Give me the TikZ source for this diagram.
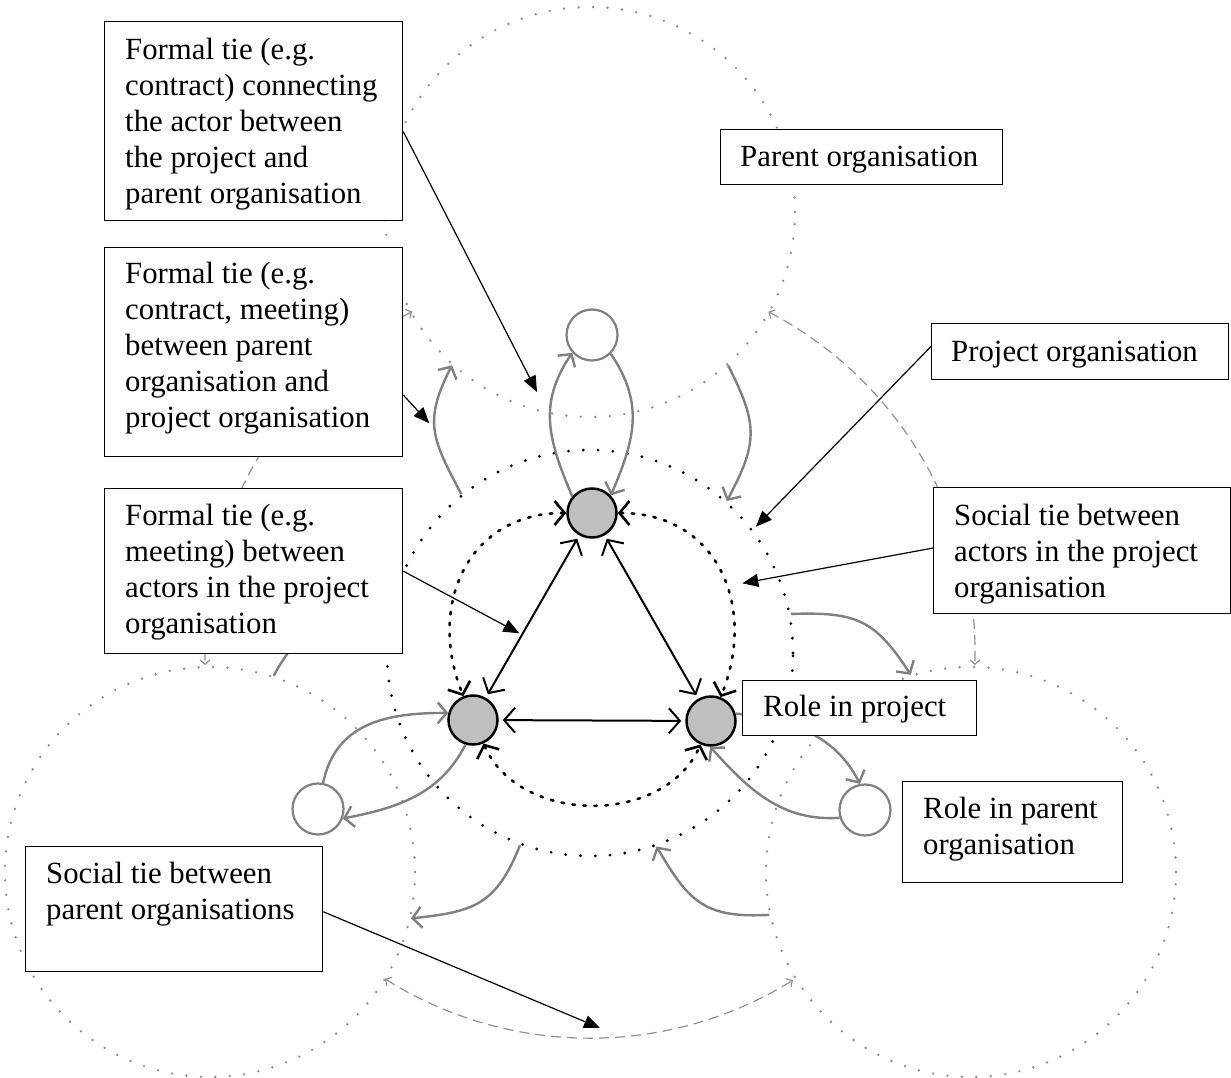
\documentclass[tikz,border=0pt]{standalone}
\usepackage{fontspec}
\setmainfont{Liberation Serif}
\usetikzlibrary{arrows.meta,calc}
\definecolor{arcgray}{RGB}{128,128,128}
\definecolor{dotgray}{RGB}{140,140,140}
\definecolor{dashgray}{RGB}{145,145,145}
\definecolor{actorfill}{RGB}{191,191,191}
\begin{document}
\begin{tikzpicture}[x=1pt,y=1pt,
  parentorg/.style={circle, inner sep=0pt, minimum size=410pt, draw=dotgray, line width=2.6pt, dash pattern=on 0pt off 14.5pt, line cap=round},
  projorg/.style={circle, inner sep=0pt, minimum size=406pt, draw=black, line width=3.1pt, dash pattern=on 0pt off 14.8pt, line cap=round},
  actor/.style={circle, inner sep=0pt, minimum size=49pt, draw=black, line width=2.5pt, fill=actorfill},
  rolec/.style={circle, inner sep=0pt, minimum size=51pt, draw=arcgray, line width=2.2pt, fill=white},
  socialring/.style={line width=2.6pt, dash pattern=on 2.5pt off 8.5pt, line cap=round, {Straight Barb[length=10pt,width=24pt]}-{Straight Barb[length=10pt,width=24pt]}},
  tri/.style={line width=2pt, {Straight Barb[length=11pt,width=25pt]}-{Straight Barb[length=11pt,width=25pt]}, shorten <=4pt, shorten >=4pt},
  garc/.style={draw=arcgray, line width=2.4pt, -{Straight Barb[length=9pt,width=21pt]}},
  sdash/.style={draw=dashgray, line width=1.2pt, dash pattern=on 10pt off 6pt, {Straight Barb[length=4.5pt,width=10pt]}-{Straight Barb[length=4.5pt,width=10pt]}},
  box/.style={rectangle, draw=black, line width=1.3pt, fill=white, inner sep=0pt, anchor=north west},
  txt/.style={inner sep=0pt, anchor=north west, align=left, font=\fontsize{30.8}{36}\selectfont},
  ann/.style={line width=1.2pt, -{Triangle[length=16pt,width=13pt]}}
]
\useasboundingbox (0,0) rectangle (1231,1077);
\fill[white] (0,0) rectangle (1231,1077);

% parent organisations and project organisation
\node[parentorg] (p1) at (590,865) {};
\node[parentorg] (p2) at (210,205) {};
\node[parentorg] (p3) at (971,205) {};
\node[projorg] (po) at (590,424) {};
\coordinate (C) at (590,424);

% social ties between parent organisations
\draw[sdash] ($(C)+(62.4:385)$) arc[start angle=62.4, end angle=-1.8, radius=385];
\draw[sdash] ($(C)+(117.5:385)$) arc[start angle=117.5, end angle=181.8, radius=385];
\draw[sdash] ($(C)+(237.8:385)$) arc[start angle=237.8, end angle=301.8, radius=385];

% actors and roles
\node[actor] (a1) at (592,564) {};
\node[actor] (a2) at (473,357) {};
\node[actor] (a3) at (711,356) {};
\node[rolec] (r1) at (592,742) {};
\node[rolec] (r2) at (318,268) {};
\node[rolec] (r3) at (865,267) {};

% formal ties parent <-> project
\draw[garc] (po.129) to[out=118,in=243,looseness=1.25] (p1.228);
\draw[garc] (p1.312) to[out=-63,in=62,looseness=1.25] (po.48);
\draw[garc] (p2.72) to[out=62,in=182,looseness=1.25] (po.171);
\draw[garc] (po.250) to[out=248,in=6,looseness=1.25] (p2.347);
\draw[garc] (p3.192) to[out=183,in=300,looseness=1.25] (po.289);
\draw[garc] (po.11) to[out=2,in=123,looseness=1.25] (p3.107);

% formal ties actor <-> role in parent organisation
\draw[garc] (a1.140) to[out=113,in=236,looseness=1.1] (r1.222);
\draw[garc] (r1.315) to[out=304,in=67,looseness=1.1] (a1.43);
\draw[garc] (a2.253) to[out=243,in=11] (r2.339);
\draw[garc] (r2.79) to[out=78,in=180,looseness=1.1] (a2.164);
\draw[garc] (a3.17) to[out=353,in=117] (r3.101);
\draw[garc] (r3.197) to[out=184,in=312] (a3.268);

% social ties between actors in the project
\draw[socialring] (a1) to[out=180,in=112,looseness=1.2] (a2);
\draw[socialring] (a1) to[out=0,in=68,looseness=1.2] (a3);
\draw[socialring] (a2) to[out=-66,in=-114,looseness=1.05] (a3);

% formal ties between actors
\draw[tri] (a1) -- (a2);
\draw[tri] (a1) -- (a3);
\draw[tri] (a2) -- (a3);

% label boxes
\node[box, minimum width=298pt, minimum height=199pt] (b1) at (104,1056) {};
\node[txt] (t1) at (125,1043.2) {\strut Formal tie (e.g.\\contract) connecting\\the actor between\\the project and\\parent organisation};
\node[box, minimum width=298pt, minimum height=209pt] (b2) at (104,830) {};
\node[txt] (t2) at (125,818.9) {\strut Formal tie (e.g.\\contract, meeting)\\between parent\\organisation and\\project organisation};
\node[box, minimum width=298pt, minimum height=165pt] (b3) at (104,589) {};
\node[txt] (t3) at (125,577.2) {\strut Formal tie (e.g.\\meeting) between\\actors in the project\\organisation};
\node[box, minimum width=282pt, minimum height=55pt] (b4) at (720,948) {};
\node[txt] (t4) at (740,935.5) {\strut Parent organisation};
\node[box, minimum width=297pt, minimum height=56pt] (b5) at (931,754) {};
\node[txt] (t5) at (951,740.5) {\strut Project organisation};
\node[box, minimum width=297pt, minimum height=126pt] (b6) at (933,590) {};
\node[txt] (t6) at (954,577.2) {\strut Social tie between\\actors in the project\\organisation};
\node[box, minimum width=234pt, minimum height=55pt] (b7) at (742,397) {};
\node[txt] (t7) at (763,385.5) {\strut Role in project};
\node[box, minimum width=220pt, minimum height=101pt] (b8) at (902,296) {};
\node[txt] (t8) at (923,283.9) {\strut Role in parent\\organisation};
\node[box, minimum width=297pt, minimum height=125pt] (b9) at (25,231) {};
\node[txt] (t9) at (46,218.9) {\strut Social tie between\\parent organisations};

% annotation arrows
\coordinate (k1) at (537,685);
\coordinate (k2) at (429.3,653.7);
\coordinate (k3) at (519.3,443.7);
\coordinate (k4) at (755.9,550.3);
\coordinate (k5) at (742.3,493.7);
\coordinate (k6) at (600,49);
\draw[ann] (b1.356) -- (k1);
\draw[ann] (b2.344) -- (k2);
\draw[ann] (b3.east) -- (k3);
\draw[ann] (b5.178) -- (k4);
\draw[ann] (b6.179) -- (k5);
\draw[ann] (b9.359) -- (k6);
\end{tikzpicture}
\end{document}
